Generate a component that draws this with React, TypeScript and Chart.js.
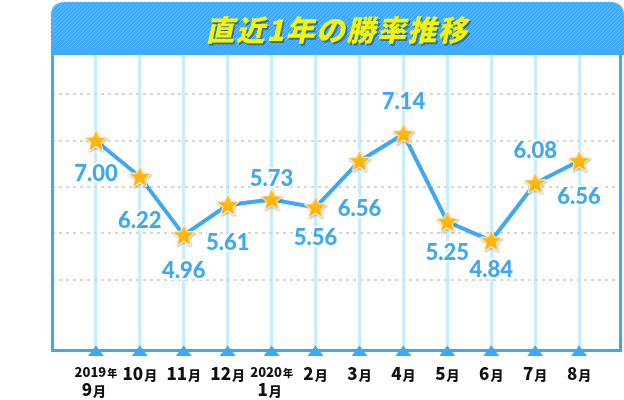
import { useEffect, useRef } from 'react';
import { Chart, registerables } from 'chart.js';

Chart.register(...registerables);

const TITLE = '直近1年の勝率推移';
const categories = ['2019年9月', '10月', '11月', '12月', '2020年1月', '2月', '3月', '4月', '5月', '6月', '7月', '8月'];
const winRates = [7.0, 6.22, 4.96, 5.61, 5.73, 5.56, 6.56, 7.14, 5.25, 4.84, 6.08, 6.56];
const valueLabels = ['7.00', '6.22', '4.96', '5.61', '5.73', '5.56', '6.56', '7.14', '5.25', '4.84', '6.08', '6.56'];
const gridLevels = [4, 5, 6, 7, 8];
const labelOffsets = [32, 43, 35, 37, -21, 30, 47, -33, 30, 28, -33, 35];

const BLUE = '#3ea8f4';
const JP = '"Noto Sans CJK JP"';

function makeStar(): HTMLCanvasElement {
  const c = document.createElement('canvas');
  c.width = 30;
  c.height = 30;
  const g = c.getContext('2d')!;
  const cx = 15, cy = 15.5, R = 11, r = 4.8;
  g.beginPath();
  for (let i = 0; i < 10; i++) {
    const rad = i % 2 === 0 ? R : r;
    const a = -Math.PI / 2 + (i * Math.PI) / 5;
    const x = cx + rad * Math.cos(a);
    const y = cy + rad * Math.sin(a);
    if (i === 0) g.moveTo(x, y);
    else g.lineTo(x, y);
  }
  g.closePath();
  g.lineJoin = 'round';
  g.shadowColor = 'rgba(0,0,0,0.35)';
  g.shadowBlur = 2;
  g.shadowOffsetX = 0.5;
  g.shadowOffsetY = 1;
  g.strokeStyle = '#ffffff';
  g.lineWidth = 2;
  g.stroke();
  g.shadowColor = 'transparent';
  const grad = g.createLinearGradient(0, 5, 0, 26);
  grad.addColorStop(0, '#ffc21a');
  grad.addColorStop(1, '#ffaa00');
  g.fillStyle = grad;
  g.fill();
  return c;
}

function drawMixed(ctx: CanvasRenderingContext2D, text: string, cx: number, baseline: number, big: number, small: number) {
  const runs = text.match(/\d+|\D+/g) || [];
  const fonts = runs.map((r) => (/\d/.test(r) ? `900 ${big}px ${JP}` : `900 ${small}px ${JP}`));
  const gap = 1;
  const widths = runs.map((r, i) => {
    ctx.font = fonts[i];
    return ctx.measureText(r).width;
  });
  const total = widths.reduce((a, b) => a + b, 0) + gap * (runs.length - 1);
  let x = cx - total / 2;
  ctx.textAlign = 'left';
  ctx.textBaseline = 'alphabetic';
  runs.forEach((r, i) => {
    ctx.font = fonts[i];
    ctx.fillText(r, x, baseline);
    x += widths[i] + gap;
  });
}

const decorPlugin = {
  id: 'decor',
  beforeDatasetsDraw(chart: any) {
    const ctx: CanvasRenderingContext2D = chart.ctx;
    const xs = chart.scales.x;
    const area = chart.chartArea;
    ctx.save();
    ctx.strokeStyle = BLUE;
    ctx.lineWidth = 3;
    ctx.beginPath();
    ctx.moveTo(52.5, 50);
    ctx.lineTo(52.5, 350.5);
    ctx.lineTo(620.5, 350.5);
    ctx.lineTo(620.5, 50);
    ctx.stroke();
    ctx.fillStyle = BLUE;
    categories.forEach((_, i) => {
      const x = xs.getPixelForValue(i);
      ctx.beginPath();
      ctx.moveTo(x, 345.5);
      ctx.lineTo(x + 8, 356);
      ctx.lineTo(x - 8, 356);
      ctx.closePath();
      ctx.fill();
    });
    const L = 51, Rt = 624, T = 2, B = area.top;
    const rad = 14;
    ctx.beginPath();
    ctx.moveTo(L, B);
    ctx.lineTo(L, T + rad);
    ctx.quadraticCurveTo(L, T, L + rad, T);
    ctx.lineTo(Rt - rad, T);
    ctx.quadraticCurveTo(Rt, T, Rt, T + rad);
    ctx.lineTo(Rt, B);
    ctx.closePath();
    ctx.fillStyle = '#3eaaf7';
    ctx.fill();
    ctx.save();
    ctx.clip();
    ctx.strokeStyle = 'rgba(255,255,255,0.28)';
    ctx.lineWidth = 1;
    for (let k = L - 60; k < Rt + 10; k += 4) {
      ctx.beginPath();
      ctx.moveTo(k, B);
      ctx.lineTo(k + (B - T), T);
      ctx.stroke();
    }
    const fade = ctx.createLinearGradient(0, 36, 0, B);
    fade.addColorStop(0, 'rgba(62,170,247,0)');
    fade.addColorStop(1, 'rgba(62,170,247,1)');
    ctx.fillStyle = fade;
    ctx.fillRect(L, 36, Rt - L, B - 36);
    ctx.restore();
    ctx.save();
    ctx.translate(337, 41);
    ctx.transform(1, 0, -0.22, 1, 0, 0);
    ctx.font = `900 29px ${JP}`;
    (ctx as any).letterSpacing = '1.5px';
    ctx.textAlign = 'center';
    ctx.textBaseline = 'alphabetic';
    ctx.fillStyle = 'rgba(20,60,120,0.55)';
    ctx.fillText(TITLE, 2, 2);
    ctx.fillStyle = '#f6f400';
    ctx.fillText(TITLE, 0, 0);
    ctx.restore();
    ctx.restore();
  },
  afterDatasetsDraw(chart: any) {
    const ctx: CanvasRenderingContext2D = chart.ctx;
    const xs = chart.scales.x;
    const meta = chart.getDatasetMeta(0);
    ctx.save();
    ctx.font = '900 22px Lato';
    ctx.textAlign = 'center';
    ctx.textBaseline = 'alphabetic';
    ctx.lineJoin = 'round';
    meta.data.forEach((pt: any, i: number) => {
      const y = pt.y + labelOffsets[i] + 8;
      ctx.strokeStyle = '#ffffff';
      ctx.lineWidth = 4;
      ctx.strokeText(valueLabels[i], pt.x, y);
      ctx.fillStyle = BLUE;
      ctx.fillText(valueLabels[i], pt.x, y);
    });
    ctx.fillStyle = '#111111';
    categories.forEach((c, i) => {
      const x = xs.getPixelForValue(i);
      const idx = c.indexOf('年');
      if (idx >= 0) {
        drawMixed(ctx, c.slice(0, idx + 1), x, 377, 13, 10);
        drawMixed(ctx, c.slice(idx + 1), x - 2, 396, 17, 13);
      } else {
        drawMixed(ctx, c, x, 380, 17, 13);
      }
    });
    ctx.restore();
  },
};

export default function App() {
  const ref = useRef<HTMLCanvasElement>(null);
  useEffect(() => {
    if (!ref.current) return;
    const star = makeStar();
    const chart = new Chart(ref.current, {
      type: 'line',
      data: {
        datasets: [
          {
            data: winRates.map((v, i) => ({ x: i, y: v })),
            borderColor: BLUE,
            borderWidth: 4,
            tension: 0,
            pointStyle: star as any,
            pointRadius: 10,
            pointHoverRadius: 10,
            clip: false as any,
          },
        ],
      },
      options: {
        responsive: false,
        animation: false,
        devicePixelRatio: 1,
        events: [],
        layout: { autoPadding: false, padding: { left: 52, top: 55, right: 1, bottom: 50 } },
        plugins: { legend: { display: false }, tooltip: { enabled: false } },
        scales: {
          x: {
            type: 'linear',
            min: -1,
            max: 12,
            afterBuildTicks: (axis: any) => {
              axis.ticks = categories.map((_, i) => ({ value: i }));
            },
            afterFit: (s: any) => {
              s.height = 0;
            },
            ticks: { display: false },
            grid: { color: '#c8edfc', lineWidth: 3, drawTicks: false },
            border: { display: false },
          },
          y: {
            min: 2.479,
            max: 8.851,
            afterBuildTicks: (axis: any) => {
              axis.ticks = gridLevels.map((v) => ({ value: v }));
            },
            afterFit: (s: any) => {
              s.width = 0;
            },
            ticks: { display: false },
            grid: { color: '#d6d6d6', lineWidth: 2, drawTicks: false },
            border: { display: false, dash: [3, 4] },
          },
        },
      },
      plugins: [decorPlugin],
    });
    return () => chart.destroy();
  }, []);
  return (
    <div style={{ position: 'fixed', left: 0, top: 0, width: 624, height: 400, background: '#ffffff' }}>
      <canvas ref={ref} width={624} height={400} style={{ display: 'block', width: 624, height: 400 }} />
    </div>
  );
}
